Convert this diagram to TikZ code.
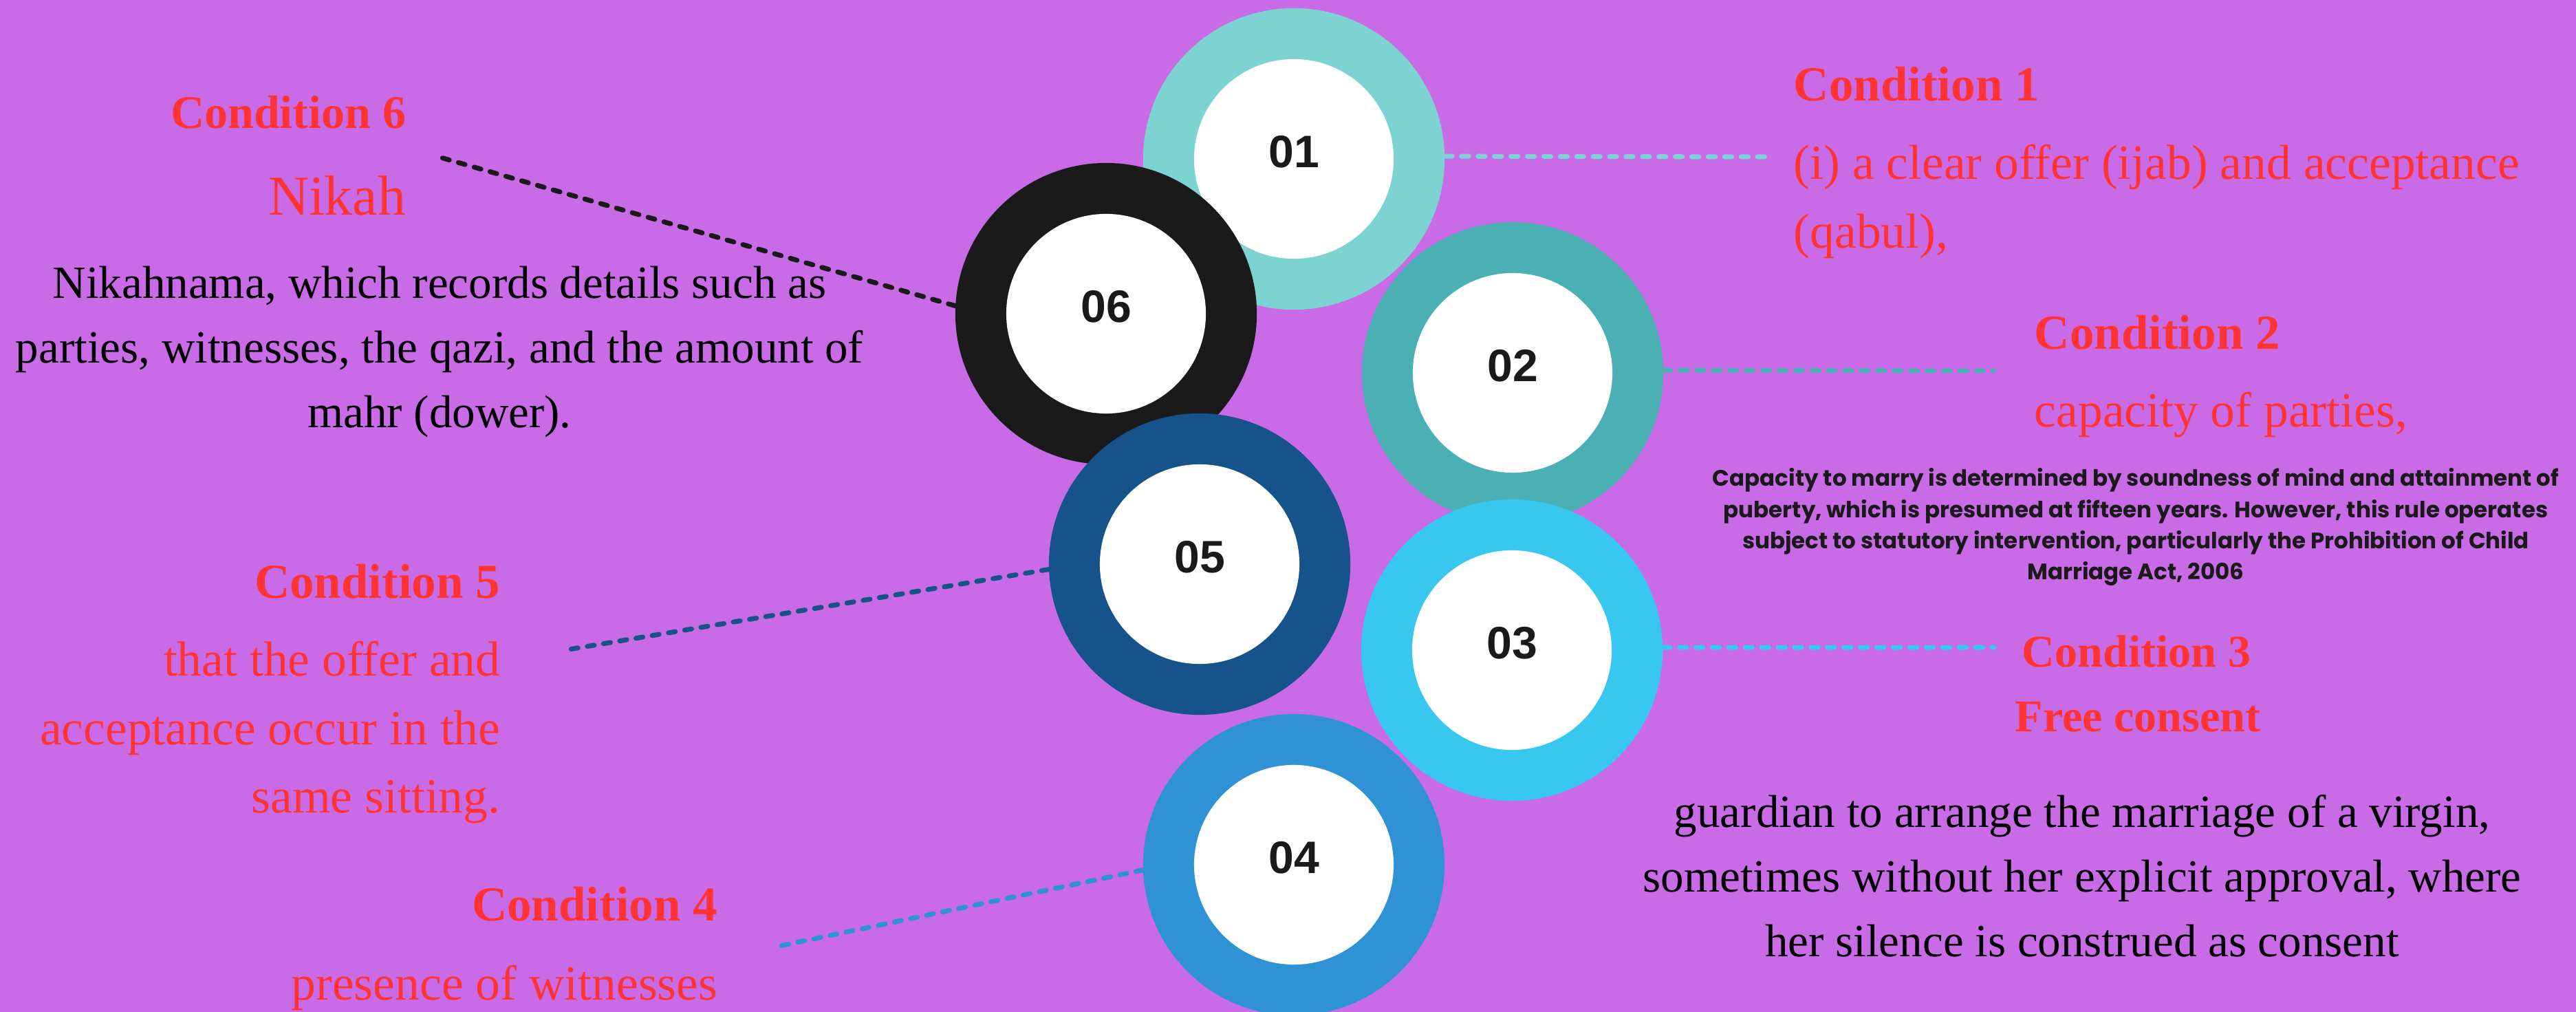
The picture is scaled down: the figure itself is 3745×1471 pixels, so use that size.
\documentclass[tikz,border=0pt]{standalone}
\usepackage{fontspec}
\setmainfont{Liberation Serif}
\newfontfamily\numfont{Liberation Sans}
\newfontfamily\notefont{Poppins}

\definecolor{bgpurple}{HTML}{C96BE6}
\definecolor{condred}{HTML}{FF3333}
\definecolor{inkdark}{HTML}{1A1A1A}
\definecolor{ringA}{HTML}{7DD3D2}
\definecolor{ringB}{HTML}{4AB0B4}
\definecolor{ringC}{HTML}{38C8EF}
\definecolor{ringD}{HTML}{2E92D4}
\definecolor{ringE}{HTML}{15538A}
\definecolor{ringF}{HTML}{1A1A1A}

% multi-line text blocks whose baseline is the first line
\newcommand\txtL[1]{\begin{tabular}[t]{@{}l@{}}#1\end{tabular}}
\newcommand\txtC[1]{\begin{tabular}[t]{@{}c@{}}#1\end{tabular}}
\newcommand\txtR[1]{\begin{tabular}[t]{@{}r@{}}#1\end{tabular}}

\begin{document}
\begin{tikzpicture}[x=0.01cm,y=-0.01cm,
  ring/.style={circle, minimum size=4.38cm, inner sep=0pt, draw=none},
  core/.style={circle, minimum size=2.9cm, inner sep=0pt, fill=white, draw=none},
  num/.style={inner sep=0pt, text=inkdark, font=\numfont\bfseries\fontsize{18.8pt}{22pt}\selectfont},
  link/.style={line width=2pt, line cap=round, dash pattern=on 2.9pt off 3.9pt},
  head/.style={inner sep=0pt, text=condred, font=\bfseries\fontsize{20.2pt}{24pt}\selectfont},
  headsmall/.style={inner sep=0pt, text=condred, font=\bfseries\fontsize{18.8pt}{24pt}\selectfont},
  redtext/.style={inner sep=0pt, text=condred, font=\fontsize{20.34pt}{28.17pt}\selectfont},
  bigred/.style={inner sep=0pt, text=condred, font=\fontsize{23.3pt}{28pt}\selectfont},
  bodytext/.style={inner sep=0pt, text=black, font=\fontsize{19.06pt}{26.6pt}\selectfont},
  note/.style={inner sep=0pt, text=inkdark, font=\notefont\bfseries\fontsize{9.25pt}{12.8pt}\selectfont}
]
\useasboundingbox (0,0) rectangle (3745,1471);
\clip (0,0) rectangle (3745,1471);
\fill[bgpurple] (0,0) rectangle (3745,1471);

% rings, drawn back to front
\node[ring, fill=ringA] (ring1) at (1881,231) {};
\node[core] (core1) at (ring1) {};
\node[ring, fill=ringF] (ring6) at (1608,456) {};
\node[core] (core6) at (ring6) {};
\node[ring, fill=ringE] (ring5) at (1744,820) {};
\node[core] (core5) at (ring5) {};
\node[ring, fill=ringB] (ring2) at (2199,542) {};
\node[core] (core2) at (ring2) {};
\node[ring, fill=ringC] (ring3) at (2198,945) {};
\node[core] (core3) at (ring3) {};
\node[ring, fill=ringD] (ring4) at (1881,1257) {};
\node[core] (core4) at (ring4) {};

\node[num] (num1) at ([yshift=0.1cm]ring1.center) {01};
\node[num] (num2) at ([yshift=0.1cm]ring2.center) {02};
\node[num] (num3) at ([yshift=0.1cm]ring3.center) {03};
\node[num] (num4) at ([yshift=0.1cm]ring4.center) {04};
\node[num] (num5) at ([yshift=0.1cm]ring5.center) {05};
\node[num] (num6) at ([yshift=0.1cm]ring6.center) {06};

% free ends of the dashed leaders
\coordinate (e1) at (2567,228);
\coordinate (e2) at (2898,539);
\coordinate (e3) at (2899,941);
\coordinate (e4) at (1129,1376);
\coordinate (e5) at (821,945);
\coordinate (e6) at (634,227);

\draw[link, ringA] (ring1.1) -- (e1);
\draw[link, ringB] (ring2.1) -- (e2);
\draw[link, ringC] (ring3.1) -- (e3);
\draw[link, ringD] (ring4.182) -- (e4);
\draw[link, ringE] (ring5.182) -- (e5);
\draw[link, ringF] (ring6.177) -- (e6);

% condition 1
\node[head, anchor=base west] (h1) at (2607,147) {Condition 1};
\node[redtext, anchor=base west] (t1) at (2607,261)
  {\txtL{(i) a clear offer (ijab) and acceptance\\(qabul),}};

% condition 2
\node[head, anchor=base west] (h2) at (2957,508) {Condition 2};
\node[redtext, anchor=base west] (t2) at (2957,621) {capacity of parties,};
\node[note, anchor=base] (n2) at (3105,707)
  {\txtC{Capacity to marry is determined by soundness of mind and attainment of\\
   puberty, which is presumed at fifteen years. However, this rule operates\\
   subject to statutory intervention, particularly the Prohibition of Child\\
   Marriage Act, 2006}};

% condition 3
\node[headsmall, anchor=base] (h3) at (3106,970) {Condition 3};
\node[headsmall, anchor=base] (f3) at (3108,1064) {Free consent};
\node[bodytext, anchor=base] (t3) at (3027,1203)
  {\txtC{guardian to arrange the marriage of a virgin,\\
   sometimes without her explicit approval, where\\
   her silence is construed as consent}};

% condition 4
\node[head, anchor=base east] (h4) at (1044,1339) {Condition 4};
\node[redtext, anchor=base east] (t4) at (1044,1453) {presence of witnesses};

% condition 5
\node[head, anchor=base east] (h5) at (728,870) {Condition 5};
\node[redtext, anchor=base east] (t5) at (728,983)
  {\txtR{that the offer and\\acceptance occur in the\\same sitting.}};

% condition 6
\node[head, font=\bfseries\fontsize{19.35pt}{24pt}\selectfont, anchor=base east] (h6) at (591,187) {Condition 6};
\node[bigred, anchor=base east] (k6) at (591,313) {Nikah};
\node[bodytext, anchor=base] (t6) at (639,434)
  {\txtC{Nikahnama, which records details such as\\
   parties, witnesses, the qazi, and the amount of\\
   mahr (dower).}};
\end{tikzpicture}
\end{document}
